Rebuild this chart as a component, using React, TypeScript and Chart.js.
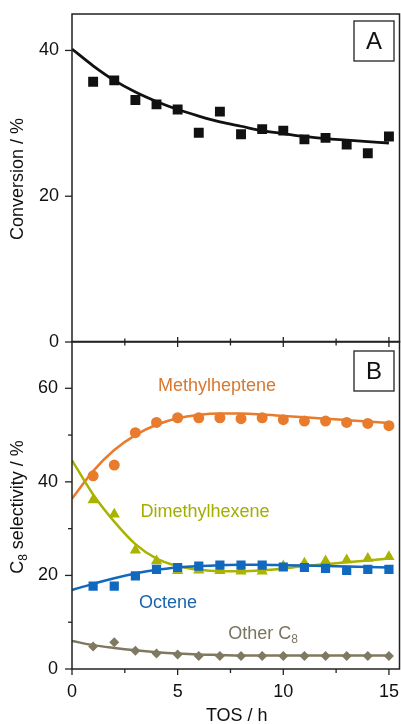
import React, { useEffect, useRef } from "react";
import { Chart, registerables } from "chart.js";
Chart.register(...registerables);

// ---- data ----
const tos = [1, 2, 3, 4, 5, 6, 7, 8, 9, 10, 11, 12, 13, 14, 15];
const fitTos = [0, 1, 2, 3, 4, 5, 6, 7, 8, 9, 10, 11, 12, 13, 14, 15];

const conversion = [35.7, 35.9, 33.2, 32.6, 31.9, 28.7, 31.6, 28.5, 29.2, 29.0, 27.8, 28.0, 27.1, 25.9, 28.2];
const conversionFit = [40.2, 37.9, 35.9, 34.3, 33.0, 31.9, 31.0, 30.2, 29.6, 29.0, 28.6, 28.2, 27.9, 27.7, 27.5, 27.3];

const methylheptene = [41.3, 43.6, 50.5, 52.7, 53.7, 53.7, 53.7, 53.5, 53.7, 53.3, 53.0, 53.0, 52.7, 52.5, 52.0];
const methylhepteneFit = [36.4, 42.3, 46.8, 50.0, 52.2, 53.6, 54.3, 54.6, 54.6, 54.4, 54.1, 53.8, 53.5, 53.2, 52.9, 52.6];

const dimethylhexene = [36.1, 33.1, 25.4, 23.1, 21.0, 21.1, 21.0, 20.9, 20.9, 22.0, 22.6, 23.1, 23.3, 23.6, 24.0];
const dimethylhexeneFit = [44.6, 37.3, 31.5, 26.7, 23.6, 22.0, 21.2, 20.9, 20.9, 21.1, 21.5, 22.0, 22.4, 22.8, 23.2, 23.6];

const octene = [17.7, 17.7, 19.9, 21.3, 21.7, 22.0, 22.2, 22.2, 22.2, 21.8, 21.7, 21.5, 21.1, 21.3, 21.3];
const octeneFit = [16.9, 18.2, 19.4, 20.4, 21.2, 21.7, 22.0, 22.2, 22.3, 22.3, 22.2, 22.1, 22.0, 21.9, 21.8, 21.7];

const otherC8 = [4.8, 5.7, 3.9, 3.3, 3.1, 2.8, 2.8, 2.8, 2.8, 2.8, 2.8, 2.8, 2.8, 2.8, 2.8];
const otherC8Fit = [6.0, 5.1, 4.5, 4.0, 3.6, 3.3, 3.1, 3.0, 2.9, 2.9, 2.9, 2.9, 2.9, 2.9, 2.9, 2.9];

const xMajorTicks = [0, 5, 10, 15];
const xMinorTicks = [2.5, 7.5, 12.5];
const yTicksA = [0, 20, 40];
const yTicksB = [0, 20, 40, 60];
const yMinorB = [10, 30, 50];

// ---- style ----
const FONT = '"Liberation Sans", Arial, Helvetica, sans-serif';
const AXIS = "#222222";
const BLACK = "#111111";
const ORANGE = "#E87B2C";
const OLIVE = "#A9B300";
const BLUE = "#1068BF";
const TAUPE = "#7E7960";

const pts = (xs: number[], ys: number[]) => xs.map((x, i) => ({ x, y: ys[i] }));

type Part = { t: string; sub?: boolean };

function drawRich(ctx: CanvasRenderingContext2D, parts: Part[], x: number, y: number, size: number, color: string) {
  const subSize = Math.round(size * 0.68);
  let total = 0;
  const widths = parts.map((p) => {
    ctx.font = `${p.sub ? subSize : size}px ${FONT}`;
    const w = ctx.measureText(p.t).width;
    total += w;
    return w;
  });
  let cx = x - total / 2;
  ctx.fillStyle = color;
  ctx.textAlign = "left";
  ctx.textBaseline = "middle";
  parts.forEach((p, i) => {
    ctx.font = `${p.sub ? subSize : size}px ${FONT}`;
    ctx.fillText(p.t, cx, p.sub ? y + size * 0.3 : y);
    cx += widths[i];
  });
}

function line(ctx: CanvasRenderingContext2D, x1: number, y1: number, x2: number, y2: number) {
  ctx.beginPath();
  ctx.moveTo(x1, y1);
  ctx.lineTo(x2, y2);
  ctx.stroke();
}

function label(ctx: CanvasRenderingContext2D, s: string, x: number, y: number, align: CanvasTextAlign, size = 18, color = BLACK) {
  ctx.font = `${size}px ${FONT}`;
  ctx.fillStyle = color;
  ctx.textAlign = align;
  ctx.textBaseline = "middle";
  ctx.fillText(s, x, y);
}

function letterBox(ctx: CanvasRenderingContext2D, s: string, x: number, y: number) {
  ctx.strokeStyle = AXIS;
  ctx.lineWidth = 1.3;
  ctx.strokeRect(x, y, 40, 40);
  label(ctx, s, x + 20, y + 21, "center", 24, BLACK);
}

const panelAPlugin = {
  id: "panelA",
  afterDraw(chart: any) {
    const { ctx, chartArea } = chart;
    const { left, right, top, bottom } = chartArea;
    const xs = chart.scales.x;
    const ys = chart.scales.y;
    ctx.save();
    ctx.strokeStyle = AXIS;
    ctx.lineWidth = 1.5;
    ctx.strokeRect(left, top, right - left, bottom - top);
    ctx.lineWidth = 1.3;
    yTicksA.forEach((v) => {
      const py = ys.getPixelForValue(v);
      line(ctx, left - 7, py, left, py);
      label(ctx, String(v), left - 13, py, "right");
    });
    xMajorTicks.forEach((v) => {
      if (v === 0) return;
      const px = xs.getPixelForValue(v);
      line(ctx, px, bottom - 5, px, bottom + 5);
    });
    xMinorTicks.forEach((v) => {
      const px = xs.getPixelForValue(v);
      line(ctx, px, bottom - 3.5, px, bottom + 3.5);
    });
    letterBox(ctx, "A", right - 45.5, top + 7);
    // y title
    ctx.save();
    ctx.translate(18.5, (top + bottom) / 2 + 1);
    ctx.rotate(-Math.PI / 2);
    drawRich(ctx, [{ t: "Conversion / %" }], 0, 0, 18, BLACK);
    ctx.restore();
    ctx.restore();
  },
};

const panelBPlugin = {
  id: "panelB",
  afterDraw(chart: any) {
    const { ctx, chartArea } = chart;
    const { left, right, top, bottom } = chartArea;
    const xs = chart.scales.x;
    const ys = chart.scales.y;
    ctx.save();
    ctx.strokeStyle = AXIS;
    ctx.lineWidth = 1.5;
    ctx.strokeRect(left, top, right - left, bottom - top);
    ctx.lineWidth = 1.3;
    yTicksB.forEach((v) => {
      const py = ys.getPixelForValue(v);
      line(ctx, left - 7, py, left, py);
      label(ctx, String(v), left - 14, py, "right");
    });
    yMinorB.forEach((v) => {
      const py = ys.getPixelForValue(v);
      line(ctx, left - 4, py, left, py);
    });
    xMajorTicks.forEach((v) => {
      const px = xs.getPixelForValue(v);
      line(ctx, px, bottom, px, bottom + 6);
      label(ctx, String(v), px, bottom + 23, "center");
    });
    xMinorTicks.forEach((v) => {
      const px = xs.getPixelForValue(v);
      line(ctx, px, bottom, px, bottom + 4);
    });
    letterBox(ctx, "B", right - 45.5, top + 9.5);
    // series labels
    drawRich(ctx, [{ t: "Methylheptene" }], 217, 386, 18, "#D8782F");
    drawRich(ctx, [{ t: "Dimethylhexene" }], 205, 512, 18, "#A3AE00");
    drawRich(ctx, [{ t: "Octene" }], 168, 603, 18, "#1A64AE");
    drawRich(ctx, [{ t: "Other C" }, { t: "8", sub: true }], 263, 634, 18, "#7A7560");
    // x title
    drawRich(ctx, [{ t: "TOS / h" }], (left + right) / 2 + 1, 716.5, 18, BLACK);
    // y title
    ctx.save();
    ctx.translate(18.5, 507);
    ctx.rotate(-Math.PI / 2);
    drawRich(ctx, [{ t: "C" }, { t: "8", sub: true }, { t: " selectivity / %" }], 0, 0, 18, BLACK);
    ctx.restore();
    ctx.restore();
  },
};

function baseScales(yMax: number, xHeight: number) {
  return {
    x: {
      type: "linear" as const,
      min: 0,
      max: 15.5,
      ticks: { display: false },
      grid: { display: false, drawTicks: false },
      border: { display: false },
      afterFit: (s: any) => {
        s.height = xHeight;
      },
    },
    y: {
      type: "linear" as const,
      min: 0,
      max: yMax,
      ticks: { display: false },
      grid: { display: false, drawTicks: false },
      border: { display: false },
      afterFit: (s: any) => {
        s.width = 72;
      },
    },
  };
}

const fitLine = (data: any, color: string, width = 2.5) => ({
  type: "scatter" as const,
  data,
  showLine: true,
  borderColor: color,
  backgroundColor: color,
  borderWidth: width,
  pointRadius: 0,
  cubicInterpolationMode: "monotone" as const,
  fill: false,
});

const markers = (data: any, color: string, style: string, radius: number) => ({
  type: "scatter" as const,
  data,
  showLine: false,
  pointStyle: style,
  pointRadius: radius,
  pointBackgroundColor: color,
  pointBorderColor: color,
  pointBorderWidth: 0,
  backgroundColor: color,
  borderColor: color,
});

export default function App() {
  const refA = useRef<HTMLCanvasElement>(null);
  const refB = useRef<HTMLCanvasElement>(null);

  useEffect(() => {
    const common = {
      responsive: false,
      animation: false as const,
      devicePixelRatio: 1,
      plugins: { legend: { display: false }, tooltip: { enabled: false } },
      events: [] as any[],
    };
    const chartA = new Chart(refA.current!, {
      type: "scatter",
      data: {
        datasets: [
          markers(pts(tos, conversion), BLACK, "rect", 7),
          fitLine(pts(fitTos, conversionFit), BLACK, 2.8),
        ] as any,
      },
      options: {
        ...common,
        layout: { autoPadding: false, padding: { top: 14, right: 1.5, left: 0, bottom: 0 } },
        scales: baseScales(45, 724 - 342) as any,
      },
      plugins: [panelAPlugin],
    });
    const chartB = new Chart(refB.current!, {
      type: "scatter",
      data: {
        datasets: [
          markers(pts(tos, octene), BLUE, "rect", 6.5),
          fitLine(pts(fitTos, octeneFit), BLUE),
          markers(pts(tos, dimethylhexene), OLIVE, "triangle", 6.5),
          fitLine(pts(fitTos, dimethylhexeneFit), OLIVE),
          markers(pts(tos, methylheptene), ORANGE, "circle", 5.5),
          fitLine(pts(fitTos, methylhepteneFit), ORANGE),
          markers(pts(tos, otherC8), TAUPE, "rectRot", 5),
          fitLine(pts(fitTos, otherC8Fit), TAUPE),
        ] as any,
      },
      options: {
        ...common,
        layout: { autoPadding: false, padding: { top: 341.5, right: 1.5, left: 0, bottom: 0 } },
        scales: baseScales(70, 724 - 669) as any,
      },
      plugins: [panelBPlugin],
    });
    return () => {
      chartA.destroy();
      chartB.destroy();
    };
  }, []);

  const cs: React.CSSProperties = { position: "absolute", left: 0, top: 0, width: 401, height: 724 };
  return (
    <div style={{ position: "absolute", left: 0, top: 0, width: 401, height: 724, background: "#fff" }}>
      <canvas ref={refA} width={401} height={724} style={cs} />
      <canvas ref={refB} width={401} height={724} style={cs} />
    </div>
  );
}
